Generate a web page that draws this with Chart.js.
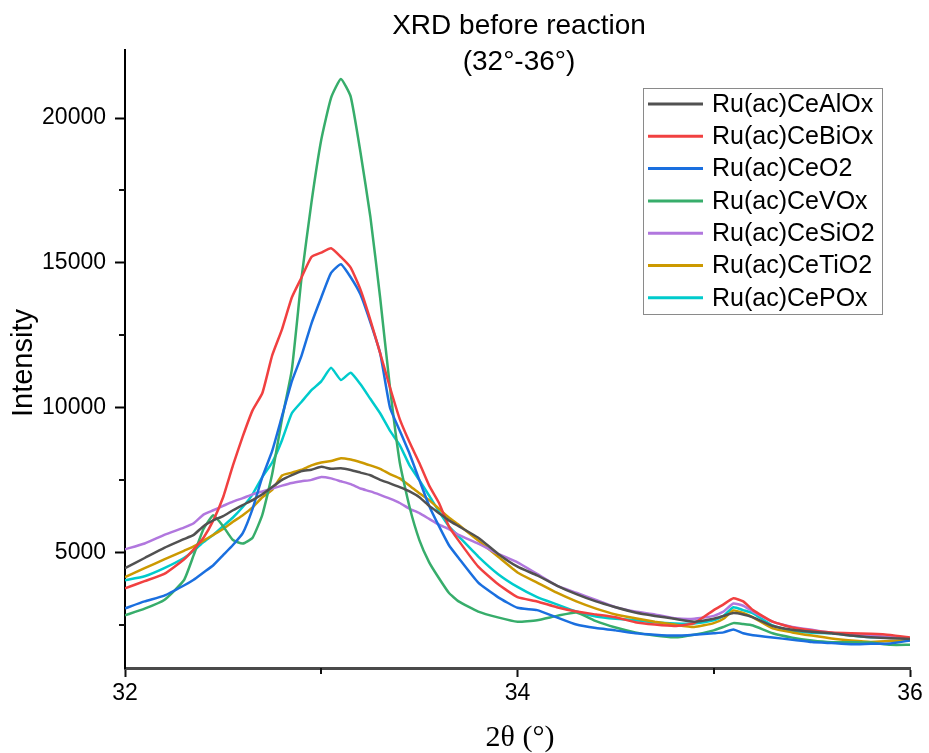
<!DOCTYPE html>
<html>
<head>
<meta charset="utf-8">
<script src="https://cdn.jsdelivr.net/npm/chart.js@4.4.1/dist/chart.umd.min.js"></script>
<style>
  html, body { margin: 0; padding: 0; background: #fff; }
  #wrap { width: 929px; height: 753px; position: relative; }
</style>
</head>
<body>
<div id="wrap"><canvas id="xrd"></canvas></div>
<script>
// 2-theta positions (degrees)
const twoTheta = [32.0, 32.1, 32.2, 32.3, 32.35, 32.4, 32.45, 32.5, 32.55, 32.6, 32.65, 32.7, 32.75, 32.8, 32.85, 32.9, 32.95, 33.0, 33.05, 33.1, 33.15, 33.2, 33.25, 33.3, 33.35, 33.4, 33.45, 33.5, 33.55, 33.6, 33.65, 33.7, 33.8, 33.9, 34.0, 34.1, 34.2, 34.3, 34.4, 34.5, 34.6, 34.7, 34.8, 34.9, 35.0, 35.05, 35.1, 35.15, 35.2, 35.3, 35.4, 35.5, 35.6, 35.7, 35.8, 35.9, 36.0];

// intensities
const alOx = [4450, 4800, 5150, 5450, 5600, 5900, 6100, 6250, 6450, 6630, 6800, 7000, 7250, 7500, 7660, 7800, 7850, 7950, 7880, 7900, 7840, 7750, 7660, 7500, 7380, 7250, 7100, 6900, 6600, 6350, 6100, 5900, 5500, 4950, 4500, 4200, 3850, 3550, 3300, 3100, 2920, 2800, 2700, 2600, 2700, 2800, 2900, 2850, 2750, 2450, 2320, 2250, 2200, 2120, 2060, 2030, 2000];
const biOx = [3750, 4000, 4250, 4750, 5100, 5500, 6100, 6900, 8000, 9000, 9900, 10500, 11800, 12700, 13800, 14500, 15200, 15350, 15500, 15200, 14830, 14070, 13030, 11880, 10700, 9600, 8800, 8080, 7300, 6700, 5900, 5400, 4500, 3900, 3450, 3300, 3100, 2950, 2850, 2750, 2580, 2500, 2450, 2550, 3000, 3200, 3410, 3300, 3000, 2600, 2400, 2300, 2230, 2200, 2180, 2140, 2050];
const ceO2 = [3060, 3300, 3500, 3850, 4050, 4300, 4550, 4900, 5250, 5660, 6500, 7600, 8500, 9700, 10900, 11800, 12900, 13800, 14650, 14950, 14500, 13900, 12950, 11880, 10000, 9200, 8400, 7490, 6600, 5900, 5250, 4800, 3950, 3450, 3080, 3000, 2750, 2500, 2380, 2300, 2200, 2150, 2120, 2150, 2200, 2230, 2330, 2200, 2130, 2050, 1980, 1900, 1860, 1820, 1840, 1850, 1950];
const vOx = [2820, 3050, 3350, 4030, 4900, 5800, 6280, 5900, 5420, 5300, 5500, 6300, 7700, 9600, 11300, 14500, 17080, 19250, 20700, 21350, 20740, 18810, 16600, 13800, 10700, 8100, 6560, 5420, 4650, 4100, 3600, 3300, 2950, 2750, 2600, 2650, 2800, 2920, 2620, 2400, 2230, 2120, 2060, 2150, 2300, 2420, 2550, 2520, 2470, 2200, 2050, 1950, 1890, 1890, 1880, 1800, 1800];
const siO2 = [5100, 5300, 5600, 5850, 6000, 6300, 6450, 6600, 6750, 6870, 7000, 7100, 7200, 7300, 7390, 7450, 7500, 7600, 7550, 7450, 7350, 7200, 7100, 6980, 6850, 6700, 6500, 6350, 6150, 5950, 5800, 5600, 5300, 4950, 4650, 4250, 3850, 3600, 3350, 3100, 2950, 2850, 2720, 2700, 2800, 2950, 3230, 3150, 2950, 2600, 2420, 2320, 2220, 2160, 2120, 2070, 2020];
const tiO2 = [4140, 4450, 4750, 5050, 5200, 5400, 5600, 5800, 6050, 6280, 6550, 6900, 7150, 7650, 7750, 7850, 8000, 8100, 8150, 8250, 8200, 8110, 8000, 7880, 7700, 7550, 7300, 7040, 6800, 6500, 6200, 5950, 5400, 4850, 4300, 3950, 3600, 3300, 3050, 2850, 2720, 2600, 2500, 2420, 2550, 2700, 2990, 2900, 2750, 2370, 2230, 2120, 2020, 1950, 1900, 1930, 1950];
const pOx = [4030, 4170, 4450, 4800, 5050, 5350, 5600, 5900, 6200, 6560, 7000, 7600, 8100, 8870, 9800, 10200, 10600, 10900, 11370, 10950, 11200, 10800, 10300, 9800, 9200, 8700, 8000, 7490, 6950, 6400, 5900, 5550, 4850, 4250, 3800, 3450, 3200, 2950, 2780, 2700, 2650, 2580, 2540, 2540, 2650, 2800, 3100, 3000, 2890, 2470, 2280, 2220, 2200, 2120, 2060, 2060, 2000];

const seriesNames = ['Ru(ac)CeAlOx', 'Ru(ac)CeBiOx', 'Ru(ac)CeO2', 'Ru(ac)CeVOx', 'Ru(ac)CeSiO2', 'Ru(ac)CeTiO2', 'Ru(ac)CePOx'];
const seriesValues = [alOx, biOx, ceO2, vOx, siO2, tiO2, pOx];
const seriesColors = ['#515151', '#F14040', '#1A6FDF', '#37AD6B', '#B177DE', '#CC9900', '#00CBCC'];

// axis ticks: major ones are labelled, minor ones only get a short mark
const xMajor = [32, 34, 36];
const xMinor = [33, 35];
const yMajor = [5000, 10000, 15000, 20000];
const yMinor = [2500, 7500, 12500, 17500];

const titleLines = ['XRD before reaction', '(32°-36°)'];
const xTitle = '2θ (°)';
const yTitle = 'Intensity';

const SANS = '"Liberation Sans", Arial, sans-serif';

// titles, axis labels and the short minor ticks
const textPlugin = {
    id: 'textPlugin',
    afterDraw(chart) {
        const ctx = chart.ctx;
        const xs = chart.scales.x, ys = chart.scales.y;
        ctx.save();
        ctx.strokeStyle = '#111';
        ctx.lineWidth = 2;
        ctx.beginPath();
        xMinor.forEach(v => {
            const px = Math.round(xs.getPixelForValue(v));
            ctx.moveTo(px, xs.top);
            ctx.lineTo(px, xs.top + 6);
        });
        yMinor.forEach(v => {
            const py = Math.round(ys.getPixelForValue(v));
            ctx.moveTo(ys.right, py);
            ctx.lineTo(ys.right - 6, py);
        });
        ctx.stroke();

        ctx.fillStyle = '#000';
        ctx.textAlign = 'center';
        ctx.textBaseline = 'middle';
        ctx.font = '28px ' + SANS;
        ctx.fillText(titleLines[0], 519, 26);
        ctx.fillText(titleLines[1], 519, 62);

        ctx.font = '30px "Liberation Serif", "Times New Roman", serif';
        ctx.fillText(xTitle, 520, 738);

        ctx.translate(24, 363);
        ctx.rotate(-Math.PI / 2);
        ctx.font = '29px ' + SANS;
        ctx.fillText(yTitle, 0, 0);
        ctx.restore();
    }
};

// boxed legend in the upper right
const legendPlugin = {
    id: 'boxLegend',
    afterDraw(chart) {
        const ctx = chart.ctx;
        const bx = 643, by = 88, bw = 239, bh = 226, row = 32.3;
        ctx.save();
        ctx.fillStyle = '#fff';
        ctx.fillRect(bx, by, bw, bh);
        ctx.strokeStyle = '#8a8a8a';
        ctx.lineWidth = 1;
        ctx.strokeRect(bx + 0.5, by + 0.5, bw, bh);
        ctx.font = '25px ' + SANS;
        ctx.textBaseline = 'middle';
        ctx.textAlign = 'left';
        chart.data.datasets.forEach((ds, i) => {
            const y = by + 16 + i * row;
            ctx.strokeStyle = ds.borderColor;
            ctx.lineWidth = 3;
            ctx.beginPath();
            ctx.moveTo(bx + 5, y);
            ctx.lineTo(bx + 60, y);
            ctx.stroke();
            ctx.fillStyle = '#000';
            ctx.fillText(ds.label, bx + 69, y + 1);
        });
        ctx.restore();
    }
};

const datasets = seriesNames.map((name, i) => ({
    label: name,
    data: twoTheta.map((t, j) => ({ x: t, y: seriesValues[i][j] })),
    borderColor: seriesColors[i],
    backgroundColor: seriesColors[i],
    borderWidth: 2.5,
    pointRadius: 0,
    tension: 0.15,
    fill: false
}));

new Chart(document.getElementById('xrd'), {
    type: 'line',
    data: { datasets: datasets },
    options: {
        responsive: true,
        maintainAspectRatio: false,
        animation: false,
        events: [],
        layout: { padding: { top: 50, right: 19, left: 0, bottom: 0 } },
        plugins: {
            legend: { display: false },
            tooltip: { enabled: false },
            title: { display: false }
        },
        scales: {
            x: {
                type: 'linear',
                min: 32,
                max: 36,
                afterFit: (scale) => { scale.height = 85; },
                afterBuildTicks: (scale) => { scale.ticks = xMajor.map(v => ({ value: v })); },
                ticks: {
                    color: '#000',
                    font: { size: 23, family: SANS },
                    padding: 3,
                    maxRotation: 0,
                    autoSkip: false
                },
                grid: {
                    drawOnChartArea: false,
                    drawTicks: true,
                    tickLength: 9,
                    tickColor: '#111',
                    tickWidth: 2
                },
                border: { display: true, color: '#4a4a4a', width: 3 }
            },
            y: {
                type: 'linear',
                min: 1000,
                max: 22350,
                afterFit: (scale) => { scale.width = 125; },
                afterBuildTicks: (scale) => { scale.ticks = yMajor.map(v => ({ value: v })); },
                ticks: {
                    color: '#000',
                    font: { size: 23, family: SANS },
                    padding: 9,
                    autoSkip: false,
                    callback: (v) => String(v)
                },
                grid: {
                    drawOnChartArea: false,
                    drawTicks: true,
                    tickLength: 10,
                    tickColor: '#000',
                    tickWidth: 2
                },
                border: { display: true, color: '#000', width: 2 }
            }
        }
    },
    plugins: [textPlugin, legendPlugin]
});
</script>
</body>
</html>
